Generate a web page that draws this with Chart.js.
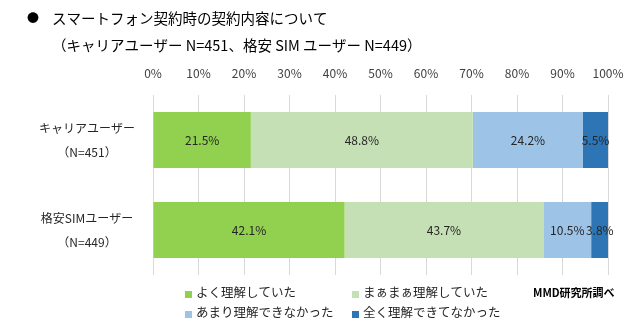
<!DOCTYPE html>
<html>
<head>
<meta charset="utf-8">
<script src="https://cdn.jsdelivr.net/npm/chart.js@4"></script>
<style>
  html, body { margin: 0; padding: 0; background: #fff; }
  #wrap { width: 640px; height: 336px; position: relative; }
</style>
</head>
<body>
<div id="wrap"><canvas id="myChart" width="640" height="336"></canvas></div>
<script>
// カテゴリと回答の割合
const categories = [['キャリアユーザー', '（N=451）'], ['格安SIMユーザー', '（N=449）']];
const seriesNames = ['よく理解していた', 'まぁまぁ理解していた', 'あまり理解できなかった', '全く理解できてなかった'];
const yokuRikai = [21.5, 42.1];
const maamaa = [48.8, 43.7];
const amari = [24.2, 10.5];
const mattaku = [5.5, 3.8];
const colores = ['#92D050', '#C5E0B4', '#9DC3E6', '#2E75B6'];

const titulo = 'スマートフォン契約時の契約内容について';
const subtitulo = '（キャリアユーザー N=451、格安 SIM ユーザー N=449）';
const fuente = 'MMD研究所調べ';

const FONT = '"Noto Sans CJK JP", "Noto Sans", sans-serif';

// タイトル、凡例、データラベルを描く
const extras = {
  id: 'extras',
  afterDatasetsDraw(chart) {
    const ctx = chart.ctx;
    ctx.save();
    // データラベル
    ctx.fillStyle = '#262626';
    ctx.font = '12px ' + FONT;
    ctx.textAlign = 'center';
    ctx.textBaseline = 'middle';
    chart.data.datasets.forEach((ds, i) => {
      const meta = chart.getDatasetMeta(i);
      meta.data.forEach((bar, j) => {
        const cx = (bar.x + bar.base) / 2;
        ctx.fillText(ds.data[j].toFixed(1) + '%', cx, bar.y);
      });
    });
    ctx.restore();
  },
  afterDraw(chart) {
    const ctx = chart.ctx;
    ctx.save();
    ctx.fillStyle = '#000';
    ctx.textBaseline = 'middle';
    ctx.textAlign = 'left';
    ctx.font = '12px ' + FONT;
    ctx.fillText('●', 27, 18);
    ctx.font = '14.5px ' + FONT;
    ctx.fillText(titulo, 52, 18);
    ctx.fillText(subtitulo, 52, 45);

    // 凡例
    const posX = [185, 352];
    const posY = [292, 312];
    ctx.font = '12.5px ' + FONT;
    seriesNames.forEach((name, i) => {
      const x = posX[i % 2];
      const y = posY[Math.floor(i / 2)];
      ctx.fillStyle = colores[i];
      ctx.fillRect(x, y - 1, 7, 7);
      ctx.fillStyle = '#262626';
      ctx.fillText(name, x + 11, y);
    });

    ctx.font = 'bold 11px ' + FONT;
    ctx.fillStyle = '#000';
    ctx.fillText(fuente, 533, 293);
    ctx.restore();
  }
};

const datos = [yokuRikai, maamaa, amari, mattaku];

const data = {
  labels: categories,
  datasets: seriesNames.map((name, i) => ({
    label: name,
    data: datos[i],
    backgroundColor: colores[i],
    borderWidth: 0,
    barPercentage: 0.622,
    categoryPercentage: 1
  }))
};

const config = {
  type: 'bar',
  data: data,
  options: {
    indexAxis: 'y',
    responsive: false,
    animation: false,
    layout: { padding: { left: 0, right: 32, top: 55, bottom: 61 } },
    plugins: {
      legend: { display: false },
      tooltip: { enabled: false }
    },
    scales: {
      x: {
        position: 'top',
        stacked: true,
        min: 0,
        max: 100,
        ticks: {
          stepSize: 10,
          padding: 14,
          color: '#404040',
          font: { family: FONT, size: 12 },
          callback: (v) => v + '%'
        },
        grid: { color: '#d9d9d9', drawTicks: false },
        border: { display: false },
        afterFit: (scale) => { scale.height = 40; }
      },
      y: {
        stacked: true,
        ticks: {
          crossAlign: 'center',
          padding: 18,
          color: '#262626',
          font: { family: FONT, size: 12, lineHeight: 2 }
        },
        grid: { display: false, drawTicks: false },
        border: { display: false },
        afterFit: (scale) => { scale.width = 153; }
      }
    }
  },
  plugins: [extras]
};

const ctx = document.getElementById('myChart').getContext('2d');
const myChart = new Chart(ctx, config);
</script>
</body>
</html>
